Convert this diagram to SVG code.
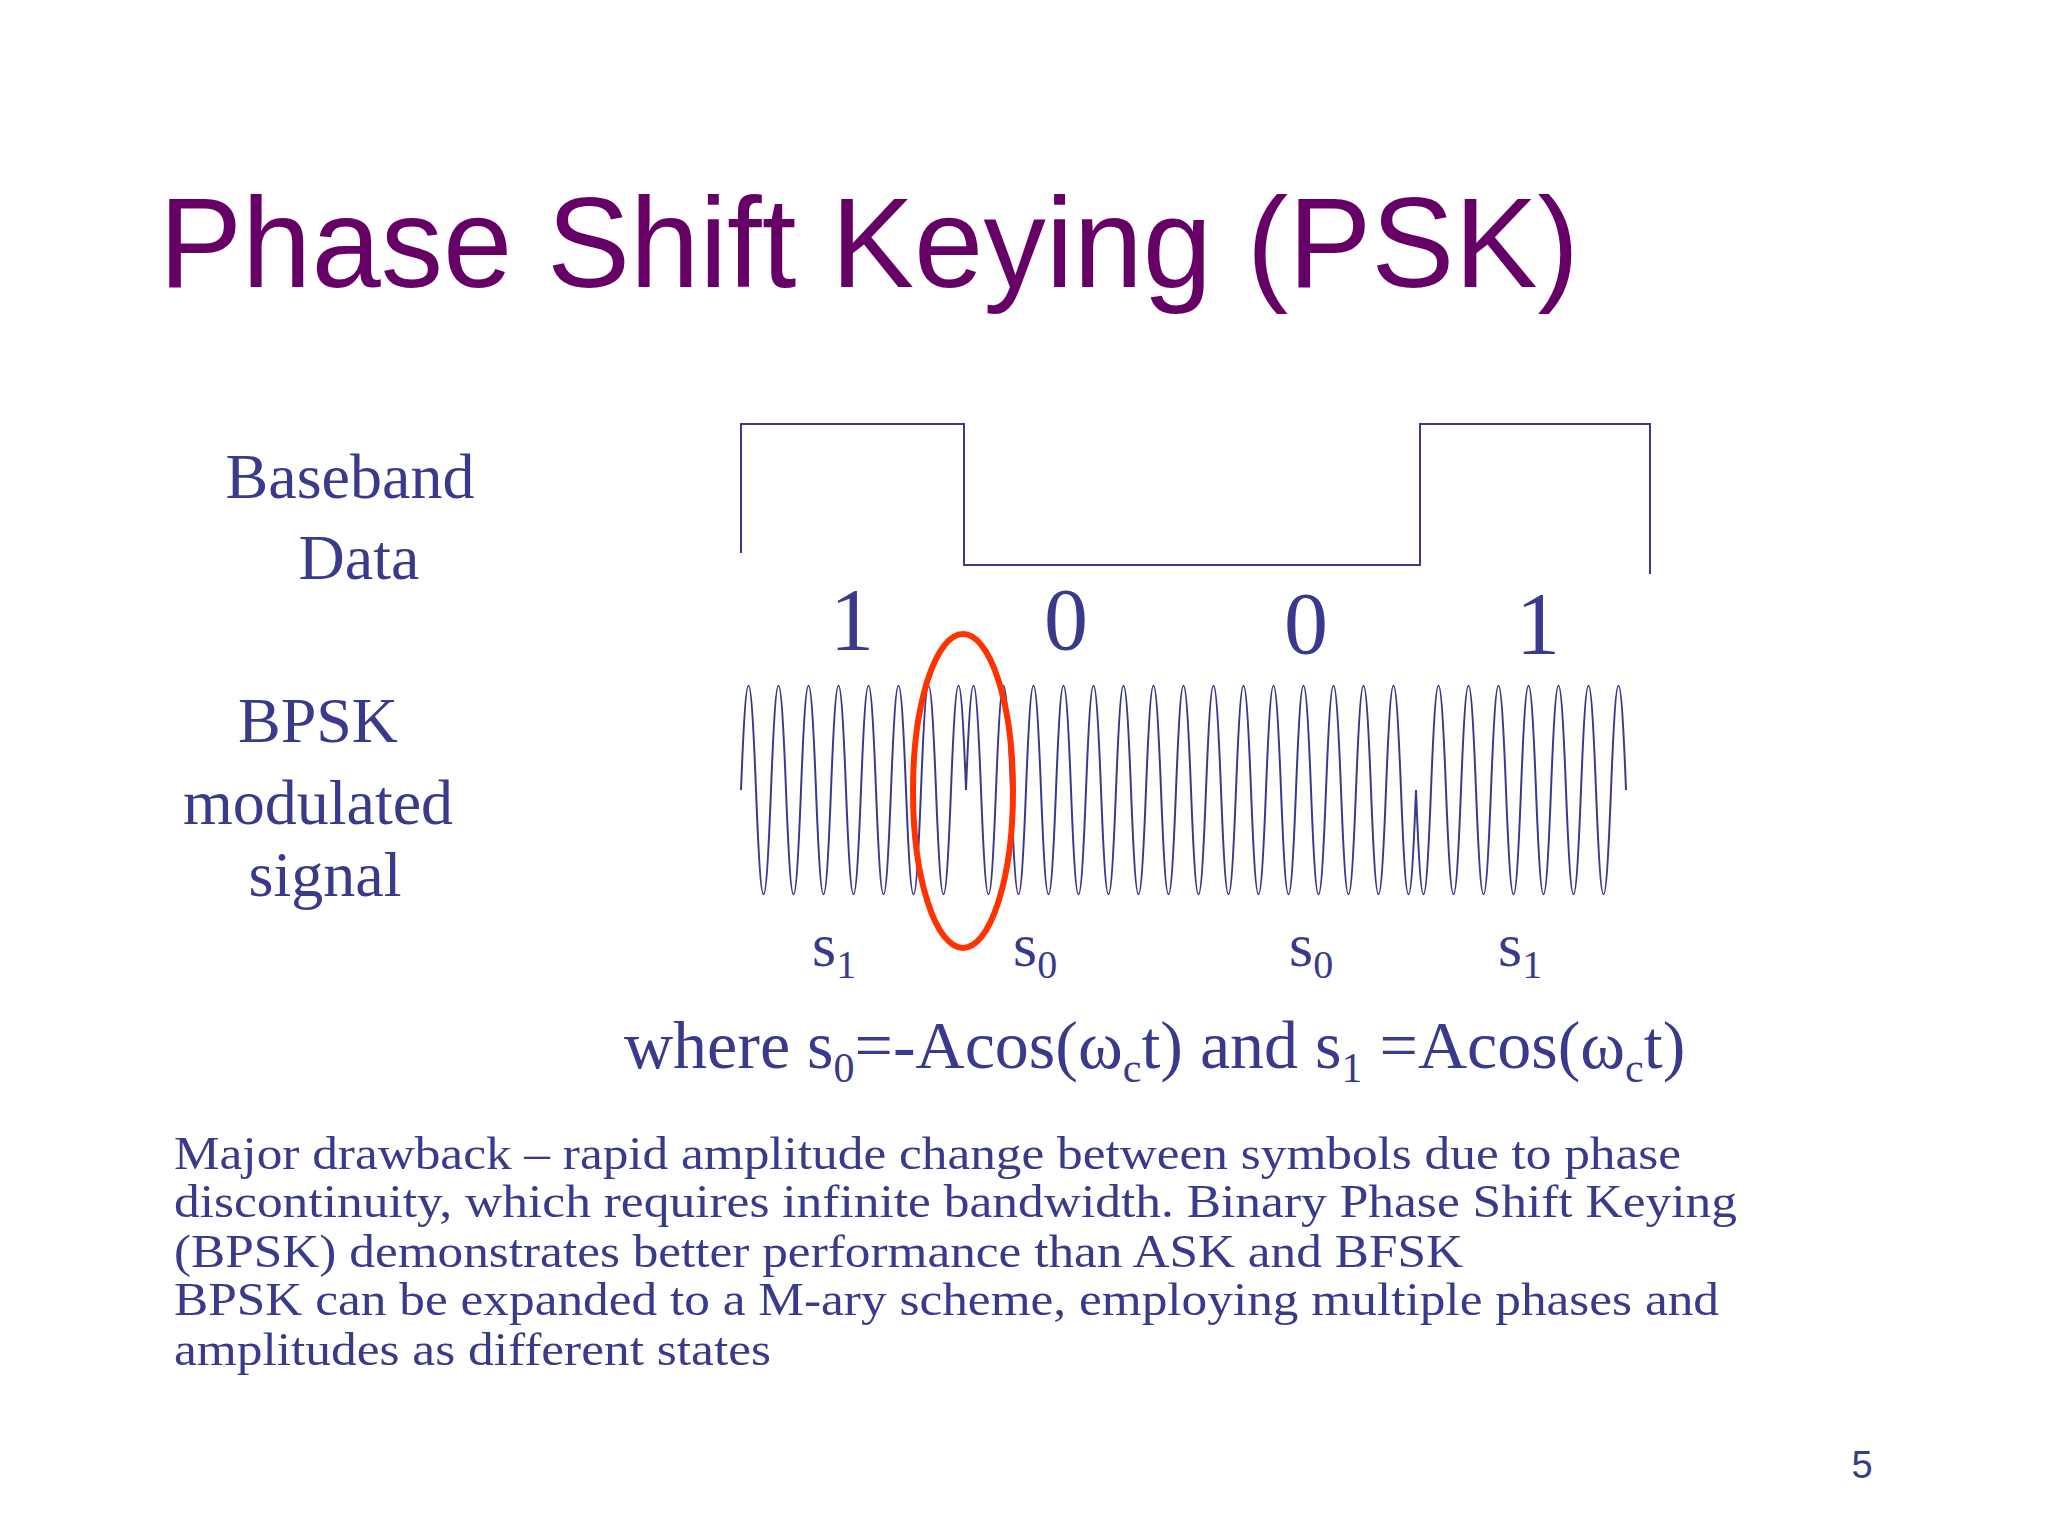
<svg xmlns="http://www.w3.org/2000/svg" width="2048" height="1536" viewBox="0 0 2048 1536">
<style>
.t{font-family:"Liberation Serif",serif;fill:#3a3a8c}
.ln{fill:none;stroke:#3a3a8c;stroke-width:2}
</style>
<rect width="2048" height="1536" fill="#fff"/>
<text x="159" y="287" font-family="Liberation Sans,Arial,sans-serif" font-size="128" fill="#660066" textLength="1420" lengthAdjust="spacingAndGlyphs">Phase Shift Keying (PSK)</text>
<g id="labels">
<text class="t" x="350" y="498" font-size="64" text-anchor="middle">Baseband</text>
<text class="t" x="359" y="579" font-size="64" text-anchor="middle">Data</text>
<text class="t" x="318" y="742" font-size="64" text-anchor="middle">BPSK</text>
<text class="t" x="318" y="824" font-size="64" text-anchor="middle">modulated</text>
<text class="t" x="325" y="896" font-size="64" text-anchor="middle">signal</text>
</g>
<g id="baseband">
<path class="ln" d="M741,553 V424 H964 V565 H1420 V424 H1650 V574"/>
</g>
<g id="bits" class="t" font-size="88" text-anchor="middle">
<text x="852" y="649">1</text><text x="1066" y="649">0</text><text x="1306" y="653">0</text><text x="1538" y="653">1</text>
</g>
<g id="wave">
<path class="ln" d="M741,790
c5.4,-139 9.6,-139 15,0 c5.4,139 9.6,139 15,0 c5.4,-139 9.6,-139 15,0 c5.4,139 9.6,139 15,0 c5.4,-139 9.6,-139 15,0 c5.4,139 9.6,139 15,0 c5.4,-139 9.6,-139 15,0 c5.4,139 9.6,139 15,0 c5.4,-139 9.6,-139 15,0 c5.4,139 9.6,139 15,0 c5.4,-139 9.6,-139 15,0 c5.4,139 9.6,139 15,0 c5.4,-139 9.6,-139 15,0 c5.4,139 9.6,139 15,0 c5.4,-139 9.6,-139 15,0
c5.4,-139 9.6,-139 15,0 c5.4,139 9.6,139 15,0 c5.4,-139 9.6,-139 15,0 c5.4,139 9.6,139 15,0 c5.4,-139 9.6,-139 15,0 c5.4,139 9.6,139 15,0 c5.4,-139 9.6,-139 15,0 c5.4,139 9.6,139 15,0 c5.4,-139 9.6,-139 15,0 c5.4,139 9.6,139 15,0 c5.4,-139 9.6,-139 15,0 c5.4,139 9.6,139 15,0 c5.4,-139 9.6,-139 15,0 c5.4,139 9.6,139 15,0 c5.4,-139 9.6,-139 15,0 c5.4,139 9.6,139 15,0 c5.4,-139 9.6,-139 15,0 c5.4,139 9.6,139 15,0 c5.4,-139 9.6,-139 15,0 c5.4,139 9.6,139 15,0 c5.4,-139 9.6,-139 15,0 c5.4,139 9.6,139 15,0 c5.4,-139 9.6,-139 15,0 c5.4,139 9.6,139 15,0 c5.4,-139 9.6,-139 15,0 c5.4,139 9.6,139 15,0 c5.4,-139 9.6,-139 15,0 c5.4,139 9.6,139 15,0 c5.4,-139 9.6,-139 15,0 c5.4,139 9.6,139 15,0
c5.4,139 9.6,139 15,0 c5.4,-139 9.6,-139 15,0 c5.4,139 9.6,139 15,0 c5.4,-139 9.6,-139 15,0 c5.4,139 9.6,139 15,0 c5.4,-139 9.6,-139 15,0 c5.4,139 9.6,139 15,0 c5.4,-139 9.6,-139 15,0 c5.4,139 9.6,139 15,0 c5.4,-139 9.6,-139 15,0 c5.4,139 9.6,139 15,0 c5.4,-139 9.6,-139 15,0 c5.4,139 9.6,139 15,0 c5.4,-139 9.6,-139 15,0"/>
</g>
<ellipse id="highlight" cx="963" cy="791" rx="50" ry="157" fill="none" stroke="#ff3300" stroke-width="6"/>
<g id="symbols" class="t" font-size="62">
<text x="812" y="966">s<tspan font-size="40" dy="12">1</tspan></text>
<text x="1013" y="966">s<tspan font-size="40" dy="12">0</tspan></text>
<text x="1289" y="966">s<tspan font-size="40" dy="12">0</tspan></text>
<text x="1498" y="966">s<tspan font-size="40" dy="12">1</tspan></text>
</g>
<text class="t" x="624" y="1068" font-size="68">where s<tspan font-size="42" dy="14">0</tspan><tspan dy="-14">=-Acos(ω</tspan><tspan font-size="42" dy="14">c</tspan><tspan dy="-14">t) and s</tspan><tspan font-size="42" dy="14">1</tspan><tspan dy="-14"> =Acos(ω</tspan><tspan font-size="42" dy="14">c</tspan><tspan dy="-14">t)</tspan></text>
<g id="para" class="t" font-size="47">
<text x="174" y="1169" textLength="1507" lengthAdjust="spacingAndGlyphs">Major drawback – rapid amplitude change between symbols due to phase</text>
<text x="174" y="1217" textLength="1563" lengthAdjust="spacingAndGlyphs">discontinuity, which requires infinite bandwidth. Binary Phase Shift Keying</text>
<text x="174" y="1267" textLength="1289" lengthAdjust="spacingAndGlyphs">(BPSK) demonstrates better performance than ASK and BFSK</text>
<text x="174" y="1315" textLength="1545" lengthAdjust="spacingAndGlyphs">BPSK can be expanded to a M-ary scheme, employing multiple phases and</text>
<text x="174" y="1365" textLength="597" lengthAdjust="spacingAndGlyphs">amplitudes as different states</text>
</g>
<text x="1862" y="1478" font-family="Liberation Sans,Arial,sans-serif" font-size="38" fill="#3a3a8c" text-anchor="middle">5</text>
</svg>
